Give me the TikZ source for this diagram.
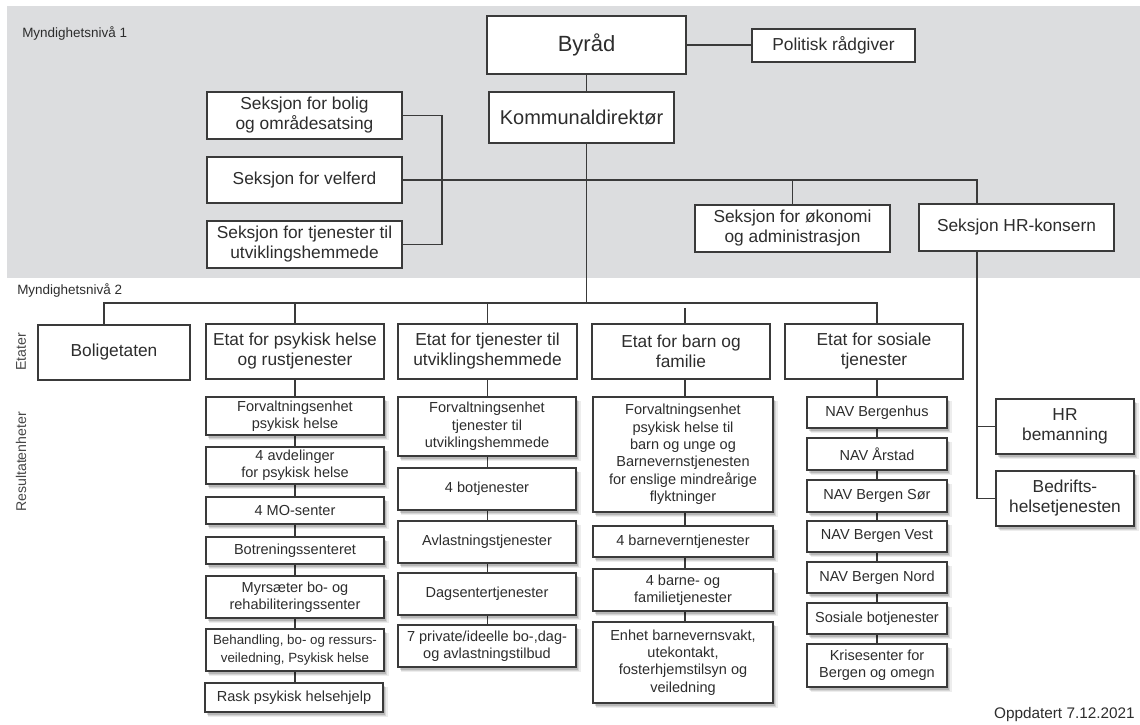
\documentclass[tikz,border=0pt]{standalone}
\usepackage{fontspec}
\setmainfont{Liberation Sans}
\usetikzlibrary{shadows}
\definecolor{bggray}{RGB}{220,221,223}
\definecolor{ln}{RGB}{58,58,58}
\definecolor{tx}{RGB}{45,45,45}
\definecolor{tx2}{RGB}{70,70,70}
\pgfdeclarelayer{back}
\pgfdeclarelayer{conn}
\pgfsetlayers{back,conn,main}
\newcommand\mkbox[7]{%
  \pgfmathsetmacro\bxcx{(#2+#4)/2}%
  \pgfmathsetmacro\bxcy{(#3+#5)/2}%
  \pgfmathsetmacro\bxw{(#4-#2)*0.75}%
  \pgfmathsetmacro\bxh{(#5-#3)*0.75}%
  \node[#6, minimum width=\bxw pt, minimum height=\bxh pt] (#1) at (\bxcx,\bxcy) {#7};}
\tikzset{
  base/.style={draw=ln, line width=1.3pt, fill=white, text=tx, align=center, inner sep=1pt},
  topbox/.style={base, font=\fontsize{13}{15}\selectfont},
  etat/.style={base, font=\fontsize{13}{15}\selectfont},
  shad/.style={
    drop shadow={shadow xshift=3.2pt, shadow yshift=-3.4pt, opacity=0.07, fill=black, shadow scale=1.01},
    drop shadow={shadow xshift=2.6pt, shadow yshift=-2.8pt, opacity=0.1, fill=black},
    drop shadow={shadow xshift=1.8pt, shadow yshift=-2pt, opacity=0.14, fill=black}},
  res/.style={base, line width=1.1pt, font=\fontsize{10.9}{13}\selectfont, shad},
  hrbox/.style={etat, line width=1.2pt, shad},
  conn/.style={draw=ln, line width=1.1pt},
  lbl/.style={text=tx, inner sep=0pt, font=\fontsize{10.1}{12}\selectfont},
  lblv/.style={text=tx2, inner sep=0pt, rotate=90, font=\fontsize{10.6}{12}\selectfont},
}
\begin{document}
\begin{tikzpicture}[x=0.75pt, y=-0.75pt]
\useasboundingbox (0,0) rectangle (1140,725);
\begin{pgfonlayer}{back}
\fill[bggray] (7,6) rectangle (1140,278);
\end{pgfonlayer}

% level 1
\mkbox{byrad}{487}{16}{686}{74}{base, font=\fontsize{16.5}{19}\selectfont}{Byråd}
\mkbox{pol}{752}{29}{915}{62}{topbox}{Politisk rådgiver}
\mkbox{komm}{489}{92}{674}{143}{base, font=\fontsize{15}{18}\selectfont}{Kommunaldirektør}
\mkbox{sbolig}{207}{92}{402}{139}{topbox}{Seksjon for bolig\\og områdesatsing}
\mkbox{svelf}{207}{157}{402}{203}{topbox}{Seksjon for velferd}
\mkbox{stjen}{207}{221}{402}{268}{topbox}{Seksjon for tjenester til\\utviklingshemmede}
\mkbox{soko}{695}{205}{890}{252}{topbox}{Seksjon for økonomi\\og administrasjon}
\mkbox{shr}{919}{204}{1114}{251}{topbox}{Seksjon HR-konsern}

% etater
\mkbox{ebolig}{38}{325}{190}{380}{etat}{Boligetaten}
\mkbox{epsyk}{206}{324}{384}{379}{etat}{Etat for psykisk helse\\og rustjenester}
\mkbox{etjen}{398}{324}{577}{379}{etat}{Etat for tjenester til\\utviklingshemmede}
\mkbox{ebarn}{592}{324}{770}{379}{etat}{Etat for barn og\\familie}
\mkbox{esos}{785}{324}{963}{379}{etat}{Etat for sosiale\\tjenester}

% column 1
\mkbox{r11}{206}{397}{384}{435}{res}{Forvaltningsenhet\\psykisk helse}
\mkbox{r12}{206}{447}{384}{484}{res}{4 avdelinger\\for psykisk helse}
\mkbox{r13}{206}{497}{384}{524}{res}{4 MO-senter}
\mkbox{r14}{206}{537}{384}{564}{res}{Botreningssenteret}
\mkbox{r15}{206}{576}{384}{618}{res}{Myrsæter bo- og\\rehabiliteringssenter}
\mkbox{r16}{206}{629}{384}{671}{res, font=\fontsize{10}{13}\selectfont}{Behandling, bo- og ressurs-\\veiledning, Psykisk helse}
\mkbox{r17}{205}{683}{383}{712}{res}{Rask psykisk helsehjelp}

% column 2
\mkbox{r21}{398}{397}{576}{456}{res}{Forvaltningsenhet\\tjenester til\\utviklingshemmede}
\mkbox{r22}{398}{468}{576}{510}{res}{4 botjenester}
\mkbox{r23}{398}{521}{576}{563}{res}{Avlastningstjenester}
\mkbox{r24}{398}{573}{576}{615}{res}{Dagsentertjenester}
\mkbox{r25}{398}{625}{576}{667}{res}{7 private/ideelle bo-,dag-\\og avlastningstilbud}

% column 3
\mkbox{r31}{593}{397}{773}{512}{res}{Forvaltningsenhet\\psykisk helse til\\barn og unge og\\Barnevernstjenesten\\for enslige mindreårige\\flyktninger}
\mkbox{r32}{593}{526}{773}{557}{res}{4 barneverntjenester}
\mkbox{r33}{593}{569}{773}{611}{res}{4 barne- og\\familietjenester}
\mkbox{r34}{593}{622}{773}{703}{res}{Enhet barnevernsvakt,\\utekontakt,\\fosterhjemstilsyn og\\veiledning}

% column 4
\mkbox{r41}{807}{397}{947}{428}{res}{NAV Bergenhus}
\mkbox{r42}{807}{438}{947}{470}{res}{NAV Årstad}
\mkbox{r43}{807}{480}{947}{512}{res}{NAV Bergen Sør}
\mkbox{r44}{807}{521}{947}{552}{res}{NAV Bergen Vest}
\mkbox{r45}{807}{562}{947}{593}{res}{NAV Bergen Nord}
\mkbox{r46}{807}{603}{947}{634}{res}{Sosiale botjenester}
\mkbox{r47}{807}{644}{947}{687}{res}{Krisesenter for\\Bergen og omegn}

% HR
\mkbox{hrbem}{996}{399}{1134}{454}{hrbox}{HR\\bemanning}
\mkbox{bedr}{996}{471}{1134}{526}{hrbox}{Bedrifts-\\helsetjenesten}

% labels
\node[lbl, anchor=west] (m1) at (22,33) {Myndighetsnivå 1};
\node[lbl, anchor=west] (m2) at (17,290) {Myndighetsnivå 2};
\node[lblv] (lbetat) at (21,352) {Etater};
\node[lblv] (lbres) at (21,462) {Resultatenheter};
\node[lbl, anchor=east, font=\fontsize{11.5}{13}\selectfont] (upd) at (1135,715) {Oppdatert 7.12.2021};

% connectors
\coordinate (bk) at (442,0);
\coordinate (hrx) at (977,0);
\coordinate (el) at (104,303);
\coordinate (er) at (877,303);
\coordinate (g3) at (685,308);
\begin{pgfonlayer}{conn}
\draw[conn] (byrad.east) -- (byrad.east -| pol.west);
\draw[conn] (byrad.south) -- (byrad.south |- komm.north);
\draw[conn] (byrad.south |- komm.south) -- (byrad.south |- el);
\draw[conn] (sbolig.east) -- (sbolig.east -| bk) -- (bk |- stjen.east) -- (stjen.east);
\draw[conn] (svelf.east) -- (svelf.east -| hrx) -- (hrx |- shr.north);
\draw[conn] (soko.north |- svelf.east) -- (soko.north);
\draw[conn] (hrx |- shr.south) -- (hrx |- bedr.west) -- (bedr.west);
\draw[conn] (hrx |- hrbem.west) -- (hrbem.west);
\draw[conn] (el |- ebolig.north) -- (el) -- (er) -- (er |- esos.north);
\draw[conn] (epsyk.north |- el) -- (epsyk.north);
\draw[conn] (etjen.north |- el) -- (etjen.north);
\draw[conn] (g3) -- (g3 |- ebarn.north);
\draw[conn] (epsyk.south) -- (epsyk.south |- r17.north);
\draw[conn] (etjen.south) -- (etjen.south |- r25.north);
\draw[conn] (g3 |- ebarn.south) -- (g3 |- r34.north);
\draw[conn] (er |- esos.south) -- (er |- r47.north);
\end{pgfonlayer}
\end{tikzpicture}
\end{document}
